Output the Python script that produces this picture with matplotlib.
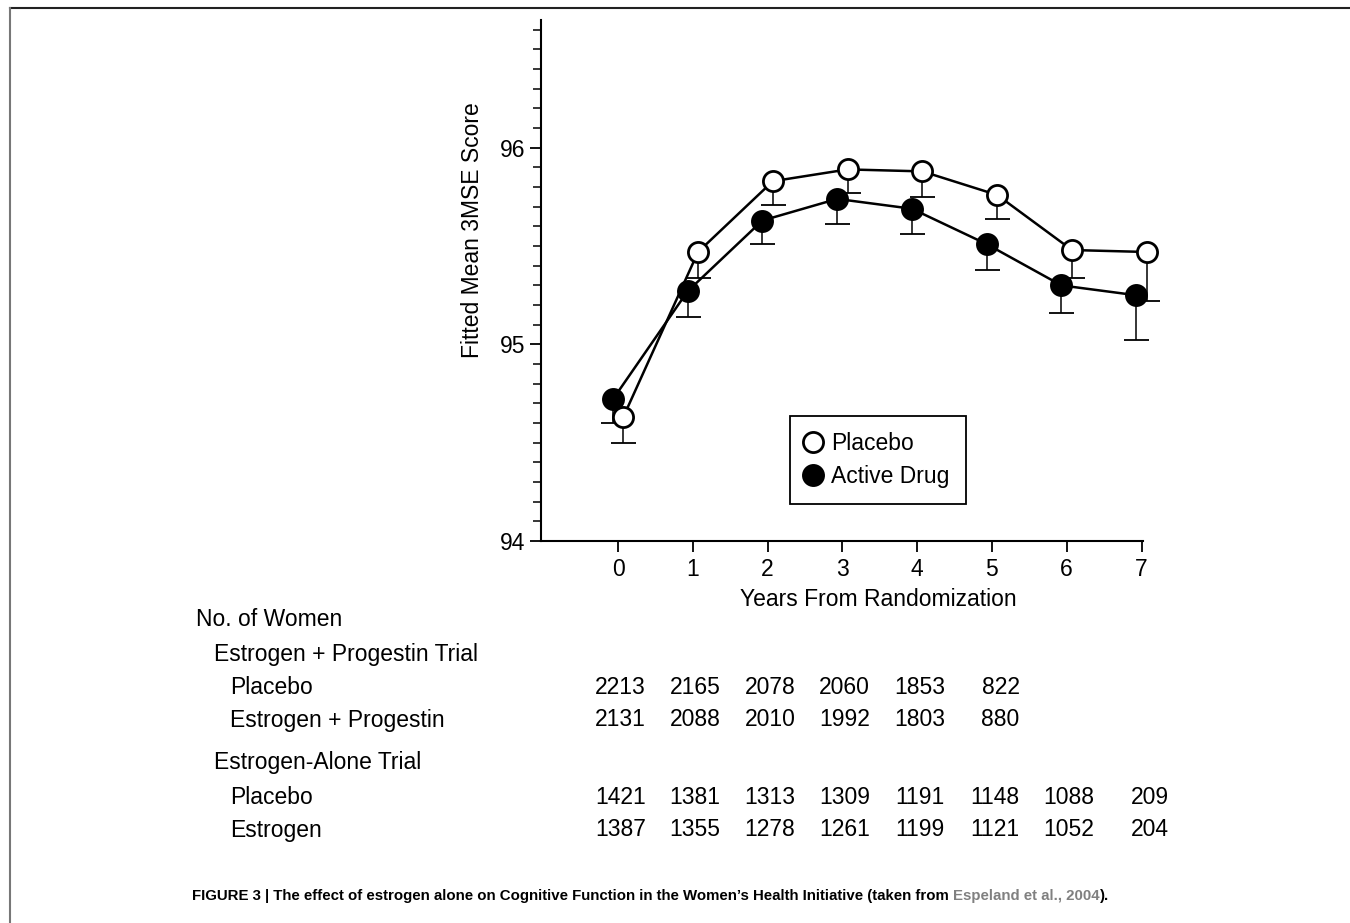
import matplotlib
matplotlib.use("Agg")
import matplotlib.pyplot as plt
from matplotlib import font_manager
from matplotlib.lines import Line2D
from matplotlib.ticker import MultipleLocator
from matplotlib.transforms import blended_transform_factory

years = [0, 1, 2, 3, 4, 5, 6, 7]
placebo_mean = [94.63, 95.47, 95.83, 95.89, 95.88, 95.76, 95.48, 95.47]
placebo_err = [0.13, 0.13, 0.12, 0.12, 0.13, 0.12, 0.14, 0.25]
active_mean = [94.72, 95.27, 95.63, 95.74, 95.69, 95.51, 95.30, 95.25]
active_err = [0.12, 0.13, 0.12, 0.13, 0.13, 0.13, 0.14, 0.23]

ep_placebo_n = [2213, 2165, 2078, 2060, 1853, 822]
ep_active_n = [2131, 2088, 2010, 1992, 1803, 880]
ea_placebo_n = [1421, 1381, 1313, 1309, 1191, 1148, 1088, 209]
ea_active_n = [1387, 1355, 1278, 1261, 1199, 1121, 1052, 204]

caption_head = "FIGURE 3 | The effect of estrogen alone on Cognitive Function in the Women\u2019s Health Initiative (taken from "
caption_ref = "Espeland et al., 2004"
caption_tail = ")."

names = {f.name for f in font_manager.fontManager.ttflist}
main_font = "Liberation Sans" if "Liberation Sans" in names else "DejaVu Sans"
cap_font = "Liberation Sans Narrow" if "Liberation Sans Narrow" in names else main_font
plt.rcParams['font.family'] = [main_font, 'DejaVu Sans']

W, H = 1350, 923
fs = 16.5
fig = plt.figure(figsize=(W / 100, H / 100), dpi=100)

def fx(px):
    return px / W

def fy(py):
    return 1 - py / H

ax = fig.add_axes([fx(541), fy(541), fx(1143) - fx(541), fy(20) - fy(541)])
ax.set_xlim(-1.03, 7.02)
ax.set_ylim(94, 96.65)
for s in ['top', 'right']:
    ax.spines[s].set_visible(False)
for s in ['left', 'bottom']:
    ax.spines[s].set_linewidth(1.5)

ax.set_xticks(years)
ax.set_yticks([94, 95, 96])
ax.yaxis.set_minor_locator(MultipleLocator(0.1))
ax.tick_params(axis='both', which='major', labelsize=fs, width=1.3, length=8, direction='out')
ax.tick_params(axis='y', which='minor', width=1.1, length=6)
ax.tick_params(axis='x', pad=4)

dodge = 0.07
xp = [x + dodge for x in years]
xa = [x - dodge for x in years]
p_low = [m - e for m, e in zip(placebo_mean, placebo_err)]
a_low = [m - e for m, e in zip(active_mean, active_err)]

# lower error bars only, with caps
ax.vlines(xp, p_low, placebo_mean, color='black', lw=1.1, zorder=2, clip_on=False)
ax.vlines(xa, a_low, active_mean, color='black', lw=1.1, zorder=2, clip_on=False)
ax.plot(xp, p_low, ls='none', marker='_', ms=18, mew=1.3, color='black', zorder=2, clip_on=False)
ax.plot(xa, a_low, ls='none', marker='_', ms=18, mew=1.3, color='black', zorder=2, clip_on=False)

ax.plot(xp, placebo_mean, color='black', lw=1.8, zorder=3, clip_on=False)
ax.plot(xa, active_mean, color='black', lw=1.8, zorder=3, clip_on=False)
ax.plot(xp, placebo_mean, ls='none', marker='o', ms=14.5, mfc='white', mec='black', mew=2.0, zorder=4, clip_on=False)
ax.plot(xa, active_mean, ls='none', marker='o', ms=14.5, mfc='black', mec='black', mew=2.0, zorder=4, clip_on=False)

ax.set_xlabel("Years From Randomization", fontsize=fs)
ax.xaxis.set_label_coords((878 - 541) / 602, (541 - 588) / 521)
ax.set_ylabel("Fitted Mean 3MSE Score", fontsize=fs)
ax.yaxis.set_label_coords((484 - 541) / 602, (541 - 230) / 521)

handles = [
    Line2D([], [], ls='none', marker='o', ms=14.5, mfc='white', mec='black', mew=2.0),
    Line2D([], [], ls='none', marker='o', ms=14.5, mfc='black', mec='black', mew=2.0),
]
leg = ax.legend(handles, ["Placebo", "Active Drug"], loc='upper left',
                bbox_to_anchor=(fx(790), fy(416)), bbox_transform=fig.transFigure,
                borderaxespad=0, fancybox=False, framealpha=1, edgecolor='black',
                fontsize=fs, handlelength=0.6, handletextpad=0.5, borderpad=0.7,
                labelspacing=0.45)
leg.get_frame().set_linewidth(1.3)

# table of numbers of women
row_text = [
    ("No. of Women", 196, 620),
    ("Estrogen + Progestin Trial", 214, 654),
    ("Placebo", 230, 687),
    ("Estrogen + Progestin", 230, 720),
    ("Estrogen-Alone Trial", 214, 763),
    ("Placebo", 230, 797),
    ("Estrogen", 230, 830),
]
for txt, px, py in row_text:
    fig.text(fx(px), fy(py), txt, fontsize=fs, ha='left', va='center')

trans = blended_transform_factory(ax.transData, fig.transFigure)
for counts, py in [(ep_placebo_n, 687), (ep_active_n, 720), (ea_placebo_n, 797), (ea_active_n, 830)]:
    for yr, n in zip(years, counts):
        ax.text(yr + 0.37, fy(py), str(n), transform=trans, fontsize=fs,
                ha='right', va='center', clip_on=False)

# caption in three pieces
cap_kw = dict(fontsize=10.8, fontweight='bold', family=[cap_font, 'DejaVu Sans'], va='center')
t1 = fig.text(fx(192), fy(896), caption_head, color='black', **cap_kw)
fig.canvas.draw()
r = fig.canvas.get_renderer()
bb = t1.get_window_extent(r)
t2 = fig.text(bb.x1 / W, fy(896), caption_ref, color='#808080', **cap_kw)
bb2 = t2.get_window_extent(r)
fig.text(bb2.x1 / W, fy(896), caption_tail, color='black', **cap_kw)

# page frame
fig.add_artist(Line2D([fx(10), 1], [fy(8), fy(8)], color='#222222', lw=1.5))
fig.add_artist(Line2D([fx(10), fx(10)], [fy(8), 0], color='#777777', lw=1.5))

fig.savefig("out.png", dpi=100)
